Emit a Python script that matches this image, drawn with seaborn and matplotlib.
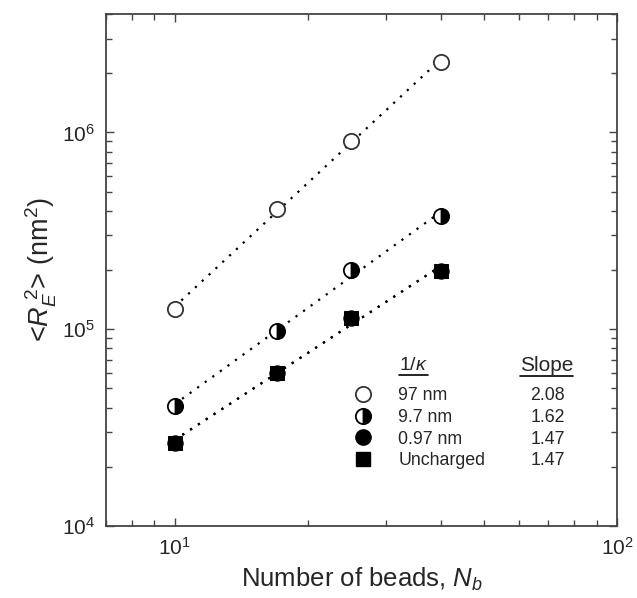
import numpy as np
import pandas as pd
import matplotlib
matplotlib.use('Agg')
import matplotlib.pyplot as plt
import matplotlib.ticker as mticker
from matplotlib.lines import Line2D
import seaborn as sns

# данные
nb = [10, 17, 25, 40]
r97 = [1.26e5, 4.10e5, 9.00e5, 2.29e6]
r9_7 = [4.05e4, 9.80e4, 2.00e5, 3.75e5]
r0_97 = [2.65e4, 6.00e4, 1.14e5, 1.98e5]
r_unch = [2.65e4, 6.00e4, 1.14e5, 1.98e5]

series_names = ['97 nm', '9.7 nm', '0.97 nm', 'Uncharged']
slopes = ['2.08', '1.62', '1.47', '1.47']

sns.set_style('ticks')
plt.rcParams['font.family'] = ['Liberation Sans', 'DejaVu Sans']
plt.rcParams['mathtext.fontset'] = 'custom'
plt.rcParams['mathtext.rm'] = 'Liberation Sans'
plt.rcParams['mathtext.it'] = 'Liberation Sans:italic'
plt.rcParams['mathtext.bf'] = 'Liberation Sans:bold'

fig = plt.figure(figsize=(6.37, 5.98), dpi=100)
ax = fig.add_axes([0.1664, 0.1204, 0.8022, 0.8562])

styles = [
    dict(marker='o', markersize=11, markerfacecolor='white', markeredgecolor='#333333', markeredgewidth=1.3),
    dict(marker='o', markersize=11, fillstyle='right', markerfacecolor='black',
         markerfacecoloralt='white', markeredgecolor='black', markeredgewidth=1.3),
    dict(marker='o', markersize=11, markerfacecolor='black', markeredgecolor='black'),
    dict(marker='s', markersize=10.5, markerfacecolor='black', markeredgecolor='black'),
]

all_series = [r97, r9_7, r0_97, r_unch]
handles = []
for vals, st in zip(all_series, styles):
    df = pd.DataFrame({'nb': nb, 'r2': vals})
    # степенная аппроксимация в лог-лог координатах
    k, b = np.polyfit(np.log10(df['nb']), np.log10(df['r2']), 1)
    xs = np.array([df['nb'].min(), df['nb'].max()])
    fit = pd.DataFrame({'nb': xs, 'r2': 10 ** (b + k * np.log10(xs))})
    sns.lineplot(data=fit, x='nb', y='r2', ax=ax, color='black',
                 linestyle=(0, (1, 3.2)), linewidth=1.6, zorder=2)
    sns.lineplot(data=df, x='nb', y='r2', ax=ax, linestyle='none', zorder=3, **st)
    handles.append(Line2D([], [], linestyle='none', **st))

ax.set_xscale('log')
ax.set_yscale('log')
ax.set_xlim(7, 100)
ax.set_ylim(1e4, 4e6)

ax.xaxis.set_major_locator(mticker.LogLocator(base=10))
ax.xaxis.set_minor_locator(mticker.LogLocator(base=10, subs=np.arange(2, 10)))
ax.yaxis.set_major_locator(mticker.LogLocator(base=10))
ax.yaxis.set_minor_locator(mticker.LogLocator(base=10, subs=np.arange(2, 10)))
ax.xaxis.set_minor_formatter(mticker.NullFormatter())
ax.yaxis.set_minor_formatter(mticker.NullFormatter())

for sp in ax.spines.values():
    sp.set_visible(True)
    sp.set_color('#444444')
    sp.set_linewidth(1.3)
ax.tick_params(which='both', direction='in', top=True, right=True, color='#444444', width=1.0)
ax.tick_params(which='major', length=6, labelsize=15, pad=8)
ax.tick_params(which='minor', length=4)

ax.set_xlabel('Number of beads, $N_b$', fontsize=18.5, labelpad=5)
ax.set_ylabel('<$R_E^{\\ 2}$> (nm$^2$)', fontsize=19.5, labelpad=2)

blank = Line2D([], [], linestyle='none')
leg = ax.legend(handles + [blank] * 4, series_names + slopes, ncol=2,
                loc='upper left', bbox_to_anchor=(0.485, 0.2715),
                frameon=False, fontsize=12.8, borderpad=0, borderaxespad=0,
                handlelength=1.0, handletextpad=1.5, labelspacing=0.27,
                columnspacing=0.05)

h1 = ax.text(0.573, 0.314, '1/$\\kappa$', transform=ax.transAxes,
             fontsize=14, ha='left', va='center')
h2 = ax.text(0.862, 0.314, 'Slope', transform=ax.transAxes,
             fontsize=15, ha='center', va='center')

# подчёркивание заголовков
fig.canvas.draw()
inv = ax.transAxes.inverted()
for t in (h1, h2):
    bb = t.get_window_extent()
    (x0, y0), (x1, _) = inv.transform([[bb.x0, bb.y0], [bb.x1, bb.y1]])
    ax.add_line(Line2D([x0, x1], [y0 - 0.002, y0 - 0.002], transform=ax.transAxes,
                       color='black', linewidth=1.2))

plt.savefig('out.png', dpi=100)
plt.close()
